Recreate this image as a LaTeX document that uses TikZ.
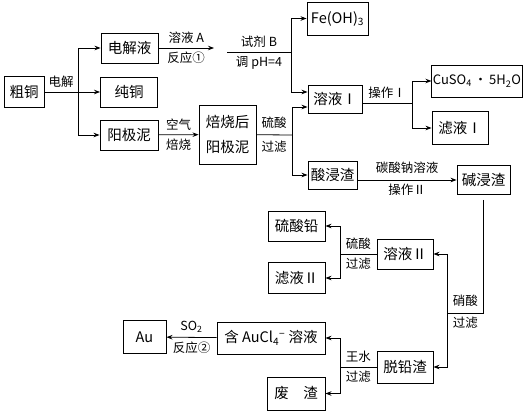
\documentclass[tikz,border=0pt]{standalone}
\usepackage{fontspec}
\setmainfont{Noto Sans CJK SC}
\usetikzlibrary{arrows.meta, positioning}

\begin{document}
\begin{tikzpicture}[
  x=1pt, y=-1pt,
  stepbox/.style={draw, line width=0.9pt, inner sep=2pt, minimum height=30pt, font=\fontsize{14.5pt}{17pt}\selectfont},
  flowlabel/.style={font=\fontsize{12.5pt}{14pt}\selectfont, inner sep=4pt},
  flowedge/.style={line width=0.8pt},
  flowarrow/.style={-{Stealth[length=6pt, width=4.5pt]}, line width=0.8pt},
]
  \useasboundingbox (0,0) rectangle (526,411);

  % Electrolysis of crude copper
  \node[stepbox, minimum width=40pt, minimum height=31pt] (cutong) at (24,92) {粗铜};
  \node[stepbox, minimum width=57pt] (djy) at (129.5,48) {电解液};
  \node[stepbox, minimum width=57pt] (chuntong) at (129,92) {纯铜};
  \node[stepbox, minimum width=58pt] (yjn) at (129,135) {阳极泥};
  \node[stepbox, minimum width=57pt, minimum height=59pt, align=center,
        font=\fontsize{14.5pt}{25pt}\selectfont] (bsh) at (227.5,134.5) {焙烧后\\阳极泥};

  % Upper row
  \node[stepbox, minimum width=61pt, minimum height=33pt] (feoh) at (337.5,18.5) {Fe(OH)\textsubscript{3}};
  \node[stepbox, minimum width=54pt, minimum height=28pt] (ry1) at (335,99) {溶液Ⅰ};
  \node[stepbox, minimum width=49pt, minimum height=28pt] (sjz) at (332.5,175) {酸浸渣};
  \node[stepbox, minimum width=90pt, minimum height=32pt, inner sep=1pt,
        font=\fontsize{13pt}{15pt}\selectfont] (cuso4) at (477,81) {CuSO\textsubscript{4}\,·\,5H\textsubscript{2}O};
  \node[stepbox, minimum width=56pt, minimum height=33pt] (lv1) at (460,128) {滤液Ⅰ};
  \node[stepbox, minimum width=53pt, minimum height=29pt] (jjz) at (483.5,180) {碱浸渣};

  % Lower row
  \node[stepbox, minimum width=56pt] (ry2) at (405,254) {溶液Ⅱ};
  \node[stepbox, minimum width=56pt, minimum height=32pt] (tqz) at (405,367) {脱铅渣};
  \node[stepbox, minimum width=57pt] (lsq) at (296.5,226) {硫酸铅};
  \node[stepbox, minimum width=57pt, minimum height=31pt] (lv2) at (296.5,278) {滤液Ⅱ};
  \node[stepbox, minimum width=108pt, minimum height=32pt] (aucl) at (271,338) {含 AuCl\textsubscript{4}\textsuperscript{−} 溶液};
  \node[stepbox, minimum width=58pt, minimum height=33pt] (fz) at (296,393.5) {废\hspace{1em}渣};
  \node[stepbox, minimum width=43pt, minimum height=33pt] (au) at (144.5,337) {Au};

  % Branch points
  \coordinate (elsplit) at (78,92);
  \coordinate (solA) at (214,48);
  \coordinate (regB) at (227,52);
  \coordinate (phsplit) at (291,52);
  \coordinate (acidsplit) at (292,135);
  \coordinate (op1split) at (412,103);
  \coordinate (hno3turn) at (483.5,313);
  \coordinate (hno3split) at (447,313);
  \coordinate (h2so4split) at (340,254);
  \coordinate (aquasplit) at (340,367);

  % Connectors
  \draw[flowedge] (cutong) -- (elsplit) node[midway, above, flowlabel] (lbel) {电解};
  \draw[flowarrow] (elsplit) |- (djy);
  \draw[flowarrow] (elsplit) -- (chuntong);
  \draw[flowarrow] (elsplit) |- (yjn);

  \draw[flowarrow] (djy) -- (solA)
    node[midway, above, flowlabel] (lbsolA) {溶液 A}
    node[midway, below, flowlabel] (lbre1) {反应①};
  \draw[flowedge] (regB) -- (phsplit)
    node[midway, above, flowlabel] (lbregB) {试剂 B}
    node[midway, below, flowlabel] (lbph) {调 pH=4};
  \draw[flowarrow] (phsplit) |- (feoh);
  \draw[flowarrow] (phsplit) |- ([yshift=7pt]ry1.west);

  \draw[flowarrow] (yjn) -- (bsh)
    node[midway, above, flowlabel] (lbair) {空气}
    node[midway, below, flowlabel] (lbroast) {焙烧};
  \draw[flowedge] (bsh) -- (acidsplit)
    node[midway, above, flowlabel, inner sep=6pt] (lbacid1) {硫酸}
    node[midway, below, flowlabel, inner sep=6pt] (lbfilt1) {过滤};
  \draw[flowarrow] (acidsplit) |- ([yshift=-8pt]ry1.west);
  \draw[flowarrow] (acidsplit) |- (sjz);

  \draw[flowedge] ([yshift=-4pt]ry1.east) -- (op1split)
    node[midway, above, flowlabel] (lbop1) {操作Ⅰ};
  \draw[flowarrow] (op1split) |- (cuso4);
  \draw[flowarrow] (op1split) |- (lv1);

  \draw[flowarrow] (sjz.east |- jjz) -- (jjz)
    node[midway, above, flowlabel, inner sep=6pt] (lbna) {碳酸钠溶液}
    node[midway, below, flowlabel] (lbop2) {操作Ⅱ};

  \draw[flowedge, shorten <=5pt] (jjz) -- (hno3turn) -- (hno3split)
    node[midway, above, flowlabel, inner sep=6pt] (lbhno3) {硝酸}
    node[midway, below, flowlabel] (lbfilt2) {过滤};
  \draw[flowarrow] (hno3split) |- (ry2);
  \draw[flowarrow] (hno3split) |- (tqz);

  \draw[flowedge] (ry2) -- (h2so4split)
    node[midway, above, flowlabel] (lbacid2) {硫酸}
    node[midway, below, flowlabel] (lbfilt3) {过滤};
  \draw[flowarrow] (h2so4split) |- (lsq);
  \draw[flowarrow] (h2so4split) |- (lv2);

  \draw[flowedge] (tqz) -- (aquasplit)
    node[midway, above, flowlabel] (lbaqua) {王水}
    node[midway, below, flowlabel] (lbfilt4) {过滤};
  \draw[flowarrow] (aquasplit) |- (aucl);
  \draw[flowarrow] (aquasplit) |- (fz);

  \draw[flowarrow] (aucl) -- (au)
    node[midway, above, flowlabel] (lbso2) {SO\textsubscript{2}}
    node[midway, below, flowlabel] (lbre2) {反应②};
\end{tikzpicture}
\end{document}
